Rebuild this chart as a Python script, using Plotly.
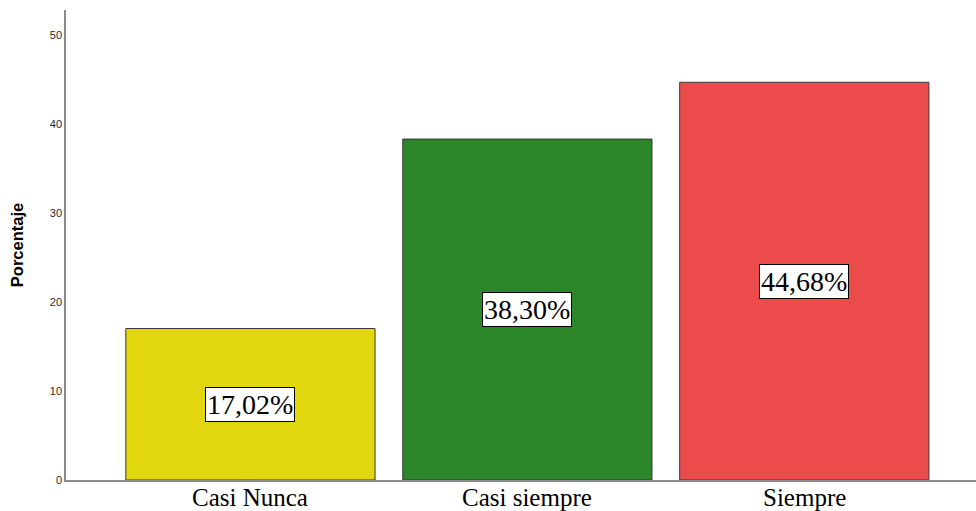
import plotly.graph_objects as go

categorias = ["Casi Nunca", "Casi siempre", "Siempre"]
porcentajes = [17.02, 38.30, 44.68]
colores = ["#E2D70F", "#2A8629", "#EC4B4C"]
ticks_y = [0, 10, 20, 30, 40, 50]

fig = go.Figure()
fig.add_trace(go.Bar(
    x=categorias,
    y=porcentajes,
    width=0.9,
    marker=dict(color=colores, line=dict(color="#3a3a3a", width=1)),
    hoverinfo="skip",
))

# boxed percentage labels centred in each bar
for cat, val in zip(categorias, porcentajes):
    fig.add_annotation(
        x=cat, y=val / 2, xref="x", yref="y",
        text=f"{val:.2f}%".replace(".", ","),
        showarrow=False,
        font=dict(family="Liberation Serif", size=28, color="black"),
        bgcolor="white", bordercolor="black", borderwidth=1, borderpad=1,
    )

# category names set just under the baseline
for cat in categorias:
    fig.add_annotation(
        x=cat, y=0, xref="x", yref="paper",
        yanchor="top", yshift=-2, text=cat, showarrow=False,
        font=dict(family="Liberation Serif", size=25, color="black"),
    )

fig.update_layout(
    width=976, height=511,
    margin=dict(l=66, r=0, t=10, b=31),
    plot_bgcolor="white", paper_bgcolor="white",
    showlegend=False,
    bargap=0.1,
)
fig.update_xaxes(
    range=[-0.666, 2.62],
    automargin=False,
    showline=True, linecolor="#8c8c8c", linewidth=1.5,
    showgrid=False, ticks="", showticklabels=False,
)
fig.update_yaxes(
    range=[0, 52.8],
    automargin=False,
    tickvals=ticks_y,
    showline=True, linecolor="#8c8c8c", linewidth=1.5,
    showgrid=False, zeroline=False, ticks="",
    tickfont=dict(family="Liberation Sans", size=11, color="#2a2a2a"),
    title=dict(text="<b>Porcentaje</b>", standoff=22,
               font=dict(family="Liberation Sans", size=16.5, color="black")),
)

fig.write_html("out.html")
